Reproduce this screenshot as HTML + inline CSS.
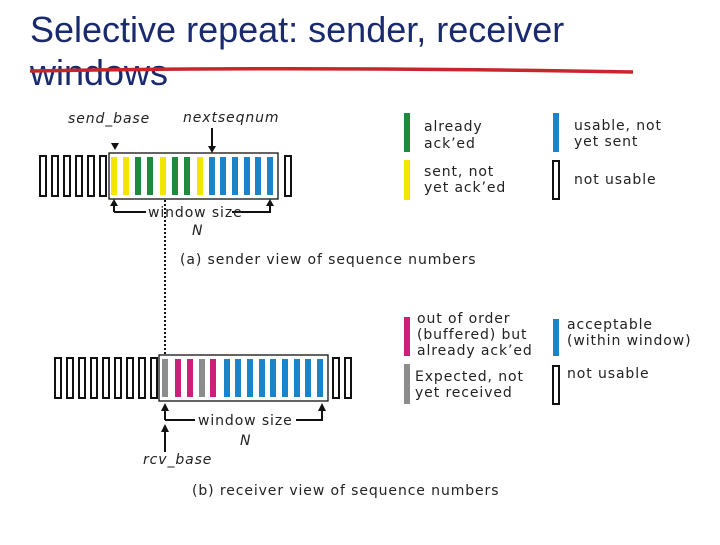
<!DOCTYPE html>
<html><head><style>
body{margin:0;width:720px;height:540px;background:#fff;overflow:hidden}
text{font-family:"DejaVu Sans","Liberation Sans",sans-serif;fill:#222}
.l{font-size:14px;letter-spacing:0.9px}
</style></head><body>
<svg width="720" height="540" xmlns="http://www.w3.org/2000/svg">
<text x="30" y="42" style="font-family:'Liberation Sans',sans-serif;font-size:36px;fill:#1a2a6e">Selective repeat: sender, receiver</text>
<text x="30" y="85" style="font-family:'Liberation Sans',sans-serif;font-size:36px;fill:#1a2a6e">windows</text>
<path d="M30 71 Q300 66 633 72" stroke="#c8262a" stroke-width="3.5" fill="none"/>
<g fill="none" stroke="#111" stroke-width="2">
<rect x="40" y="156" width="6" height="40"/><rect x="52" y="156" width="6" height="40"/><rect x="64" y="156" width="6" height="40"/><rect x="76" y="156" width="6" height="40"/><rect x="88" y="156" width="6" height="40"/><rect x="100" y="156" width="6" height="40"/><rect x="285" y="156" width="6" height="40"/>
<rect x="109" y="153" width="169" height="46" stroke-width="1.3"/>
<rect x="55" y="358" width="6" height="40"/><rect x="67" y="358" width="6" height="40"/><rect x="79" y="358" width="6" height="40"/><rect x="91" y="358" width="6" height="40"/><rect x="103" y="358" width="6" height="40"/><rect x="115" y="358" width="6" height="40"/><rect x="127" y="358" width="6" height="40"/><rect x="139" y="358" width="6" height="40"/><rect x="151" y="358" width="6" height="40"/><rect x="333" y="358" width="6" height="40"/><rect x="345" y="358" width="6" height="40"/>
<rect x="159" y="355" width="169" height="46" stroke-width="1.3"/>
<rect x="553" y="161" width="6" height="38"/><rect x="553" y="366" width="6" height="38"/>
</g>
<g>
<rect x="111" y="157" width="6" height="38" fill="#f2e600"/><rect x="123" y="157" width="6" height="38" fill="#f2e600"/><rect x="135" y="157" width="6" height="38" fill="#1e8a3e"/><rect x="147" y="157" width="6" height="38" fill="#1e8a3e"/><rect x="160" y="157" width="6" height="38" fill="#f2e600"/><rect x="172" y="157" width="6" height="38" fill="#1e8a3e"/><rect x="184" y="157" width="6" height="38" fill="#1e8a3e"/><rect x="197" y="157" width="6" height="38" fill="#f2e600"/>
<rect x="209" y="157" width="6" height="38" fill="#1b84c8"/><rect x="220" y="157" width="6" height="38" fill="#1b84c8"/><rect x="232" y="157" width="6" height="38" fill="#1b84c8"/><rect x="244" y="157" width="6" height="38" fill="#1b84c8"/><rect x="255" y="157" width="6" height="38" fill="#1b84c8"/><rect x="267" y="157" width="6" height="38" fill="#1b84c8"/>
<rect x="162" y="359" width="6" height="38" fill="#8c8c8c"/><rect x="175" y="359" width="6" height="38" fill="#cc1f79"/><rect x="187" y="359" width="6" height="38" fill="#cc1f79"/><rect x="199" y="359" width="6" height="38" fill="#8c8c8c"/><rect x="210" y="359" width="6" height="38" fill="#cc1f79"/>
<rect x="224" y="359" width="6" height="38" fill="#1b84c8"/><rect x="235" y="359" width="6" height="38" fill="#1b84c8"/><rect x="247" y="359" width="6" height="38" fill="#1b84c8"/><rect x="259" y="359" width="6" height="38" fill="#1b84c8"/><rect x="270" y="359" width="6" height="38" fill="#1b84c8"/><rect x="282" y="359" width="6" height="38" fill="#1b84c8"/><rect x="294" y="359" width="6" height="38" fill="#1b84c8"/><rect x="305" y="359" width="6" height="38" fill="#1b84c8"/><rect x="317" y="359" width="6" height="38" fill="#1b84c8"/>
<rect x="404" y="113" width="6" height="39" fill="#1e8a3e"/><rect x="404" y="160" width="6" height="40" fill="#f2e600"/><rect x="553" y="113" width="6" height="39" fill="#1b84c8"/>
<rect x="404" y="317" width="6" height="39" fill="#cc1f79"/><rect x="404" y="364" width="6" height="40" fill="#8c8c8c"/><rect x="553" y="319" width="6" height="37" fill="#1b84c8"/>
</g>
<g stroke="#111" stroke-width="2" fill="none">
<path d="M114 212H146M114 212V204M232 212H270V204"/>
<path d="M212 128V150"/>
<path d="M165 200V355" stroke-dasharray="2,2"/>
<path d="M165 420H195M165 420V410M296 420H322V410"/>
<path d="M165 452V430"/>
</g>
<g fill="#111">
<path d="M110 206L114 199L118 206Z"/><path d="M266 206L270 199L274 206Z"/>
<path d="M111 143L119 143L115 150Z"/><path d="M208 146L216 146L212 153Z"/>
<path d="M161 411L165 403L169 411Z"/><path d="M318 411L322 403L326 411Z"/><path d="M161 432L165 424L169 432Z"/>
</g>
<g class="l">
<text x="68" y="123" font-style="italic">send_base</text>
<text x="183" y="122" font-style="italic">nextseqnum</text>
<text x="148" y="217">window size</text>
<text x="192" y="235" font-style="italic">N</text>
<text x="180" y="264">(a) sender view of sequence numbers</text>
<text x="198" y="425">window size</text>
<text x="240" y="445" font-style="italic">N</text>
<text x="143" y="464" font-style="italic">rcv_base</text>
<text x="192" y="495">(b) receiver view of sequence numbers</text>
<text x="424" y="131">already</text><text x="424" y="148">ack’ed</text>
<text x="424" y="176">sent, not</text><text x="424" y="192">yet ack’ed</text>
<text x="574" y="130">usable, not</text><text x="574" y="146">yet sent</text>
<text x="574" y="184">not usable</text>
<text x="417" y="323">out of order</text><text x="417" y="339">(buffered) but</text><text x="417" y="355">already ack’ed</text>
<text x="567" y="329">acceptable</text><text x="567" y="345">(within window)</text>
<text x="415" y="381">Expected,  not</text><text x="415" y="397">yet received</text>
<text x="567" y="378">not usable</text>
</g>
</svg>
</body></html>
